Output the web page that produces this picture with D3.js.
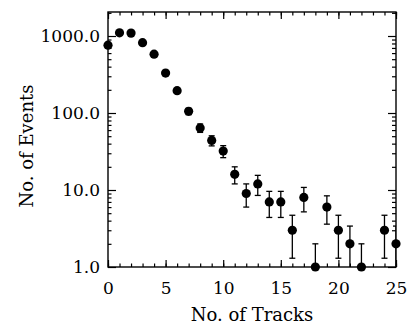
<!DOCTYPE html>
<html>
<head>
<meta charset="utf-8">
<script src="https://cdn.jsdelivr.net/npm/d3@7"></script>
<style>
    body { margin: 0; background: #fff; }
    text { font-family: "DejaVu Serif", serif; fill: #000; }
</style>
</head>
<body>
<svg id="chart" width="407" height="326"></svg>
<script>
// values
var tracks = [0, 1, 2, 3, 4, 5, 6, 7, 8, 9, 10, 11, 12, 13, 14, 15, 16, 17, 18, 19, 20, 21, 22, 24, 25];
var events = [760, 1100, 1090, 820, 580, 330, 195, 105, 64, 44, 32, 16, 9, 12, 7, 7, 3, 8, 1, 6, 3, 2, 1, 3, 2];
var errors = [28, 33, 33, 29, 24, 18, 14, 10, 8, 6.6, 5.7, 4, 3, 3.5, 2.6, 2.6, 1.7, 2.8, 1, 2.4, 1.7, 1.4, 1, 1.7, 1.4];

var xTicks = [0, 5, 10, 15, 20, 25];
var yTicks = [1, 10, 100, 1000];

var margin = {top: 12, right: 11, bottom: 59, left: 108};
var width = 407 - margin.left - margin.right;
var height = 326 - margin.top - margin.bottom;

var svg = d3.select("#chart");
var g = svg.append("g").attr("transform", "translate(" + margin.left + "," + margin.top + ")");

var x = d3.scaleLinear().domain([0, 25]).range([0, width]);
var y = d3.scaleLog().domain([1, 2050]).range([height, 0]);

var xMinor = d3.range(0, 26);
var yMinor = [];
yTicks.forEach(function(d) {
    for (var k = 2; k <= 9; k++) {
        if (d * k < 2050) yMinor.push(d * k);
    }
});

function styleAxis(sel) {
    sel.select(".domain").remove();
    sel.selectAll(".tick line").attr("stroke", "#000").attr("stroke-width", 1.2);
    sel.selectAll(".tick text").style("font-size", "17px");
}

// bottom
g.append("g").attr("transform", "translate(0," + height + ")")
    .call(d3.axisBottom(x).tickValues(xMinor).tickSize(-3.5).tickFormat(""))
    .call(styleAxis);
g.append("g").attr("transform", "translate(0," + height + ")")
    .call(d3.axisBottom(x).tickValues(xTicks).tickSize(-7).tickPadding(15).tickFormat(d3.format("d")))
    .call(styleAxis);
// top
g.append("g")
    .call(d3.axisTop(x).tickValues(xMinor).tickSize(-3.5).tickFormat(""))
    .call(styleAxis);
g.append("g")
    .call(d3.axisTop(x).tickValues(xTicks).tickSize(-7).tickFormat(""))
    .call(styleAxis);
// left
g.append("g")
    .call(d3.axisLeft(y).tickValues(yMinor).tickSize(-3.5).tickFormat(""))
    .call(styleAxis);
g.append("g")
    .call(d3.axisLeft(y).tickValues(yTicks).tickSize(-8).tickPadding(8).tickFormat(d3.format(".1f")))
    .call(styleAxis);
// right
g.append("g").attr("transform", "translate(" + width + ",0)")
    .call(d3.axisRight(y).tickValues(yMinor).tickSize(-4).tickFormat(""))
    .call(styleAxis);
g.append("g").attr("transform", "translate(" + width + ",0)")
    .call(d3.axisRight(y).tickValues(yTicks).tickSize(-8).tickFormat(""))
    .call(styleAxis);

g.append("rect")
    .attr("width", width)
    .attr("height", height)
    .attr("fill", "none")
    .attr("stroke", "#000")
    .attr("stroke-width", 1.4);

// error bars, clipped to the frame
svg.append("defs").append("clipPath").attr("id", "plot-clip")
    .append("rect").attr("width", width).attr("height", height);

var bars = g.append("g").attr("clip-path", "url(#plot-clip)")
    .selectAll("g.err")
    .data(tracks)
    .enter().append("g")
    .attr("class", "err")
    .attr("stroke", "#000")
    .attr("stroke-width", 1.3);

function lo(i) { return y(Math.max(events[i] - errors[i], 0.01)); }
function hi(i) { return y(events[i] + errors[i]); }

bars.append("line")
    .attr("x1", function(d) { return x(d); })
    .attr("x2", function(d) { return x(d); })
    .attr("y1", function(d, i) { return lo(i); })
    .attr("y2", function(d, i) { return hi(i); });
bars.append("line")
    .attr("x1", function(d) { return x(d) - 3; })
    .attr("x2", function(d) { return x(d) + 3; })
    .attr("y1", function(d, i) { return hi(i); })
    .attr("y2", function(d, i) { return hi(i); });
bars.append("line")
    .attr("x1", function(d) { return x(d) - 3; })
    .attr("x2", function(d) { return x(d) + 3; })
    .attr("y1", function(d, i) { return lo(i); })
    .attr("y2", function(d, i) { return lo(i); });

g.append("g")
    .selectAll("circle")
    .data(tracks)
    .enter().append("circle")
    .attr("cx", function(d) { return x(d); })
    .attr("cy", function(d, i) { return y(events[i]); })
    .attr("r", 4.6)
    .attr("fill", "#000");

// axis titles
svg.append("text")
    .attr("x", margin.left + width / 2)
    .attr("y", 321)
    .attr("text-anchor", "middle")
    .style("font-size", "18px")
    .text("No. of Tracks");

svg.append("text")
    .attr("transform", "translate(33," + 146 + ") rotate(-90)")
    .attr("text-anchor", "middle")
    .style("font-size", "18px")
    .text("No. of Events");
</script>
</body>
</html>
